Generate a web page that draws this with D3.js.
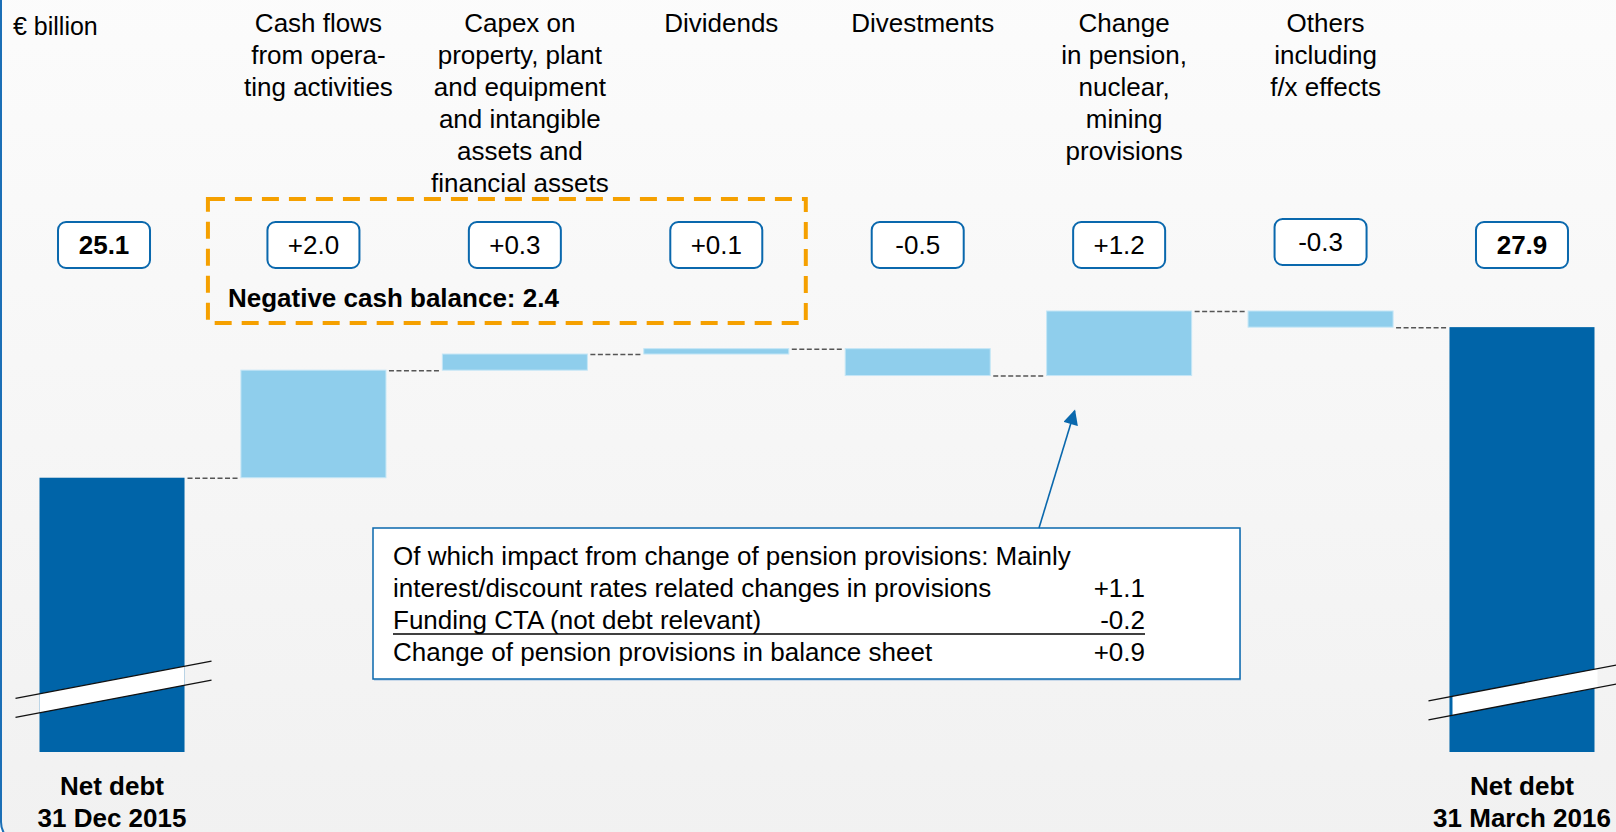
<!DOCTYPE html>
<html>
<head>
<meta charset="utf-8">
<script src="https://cdn.jsdelivr.net/npm/d3@7"></script>
<style>
  html, body { margin: 0; padding: 0; background: #fff; }
  svg { display: block; font-family: "Liberation Sans", Arial, sans-serif; }
</style>
</head>
<body>
<svg id="chart" width="1616" height="832"></svg>
<script>
// data
var categories = ["start", "cashflow", "capex", "dividends", "divestments", "pension", "others", "end"];
var startValue = 25.1;
var deltas = [2.0, 0.3, 0.1, -0.5, 1.2, -0.3];
var endValue = 27.9;
var categoryLabels = [
  [],
  ["Cash flows", "from opera-", "ting activities"],
  ["Capex on", "property, plant", "and equipment", "and intangible", "assets and", "financial assets"],
  ["Dividends"],
  ["Divestments"],
  ["Change", "in pension,", "nuclear,", "mining", "provisions"],
  ["Others", "including", "f/x effects"],
  []
];
var bottomLabels = [["Net debt", "31 Dec 2015"], ["Net debt", "31 March 2016"]];
var cashBalance = 2.4;
var noteLines = [
  "Of which impact from change of pension provisions: Mainly",
  "interest/discount rates related changes in provisions",
  "Funding CTA (not debt relevant)",
  "Change of pension provisions in balance sheet"
];
var noteValues = ["", "+1.1", "-0.2", "+0.9"];

var dark = "#0064a8", light = "#8fceec", blue = "#0a68ad", orange = "#f5a000";
var fontSize = 26;

var svg = d3.select("#chart"),
    width = +svg.attr("width"),
    height = +svg.attr("height");

var x = d3.scaleBand()
    .domain(categories)
    .range([39.5, 1594.5])
    .paddingInner(0.28)
    .paddingOuter(0);

// broken axis: bottom of the plot is not zero
var y = d3.scaleLinear().domain([20, 28.2]).range([752, 311]);
var bw = x.bandwidth();

// background
var defs = svg.append("defs");
var grad = defs.append("linearGradient").attr("id", "bg").attr("x1", 0).attr("y1", 0).attr("x2", 0).attr("y2", 1);
grad.append("stop").attr("offset", "0%").attr("stop-color", "#fcfcfc");
grad.append("stop").attr("offset", "100%").attr("stop-color", "#f1f1f1");

svg.append("rect")
  .attr("x", 1).attr("y", -40)
  .attr("width", 1700).attr("height", 884)
  .attr("rx", 22)
  .attr("fill", "url(#bg)")
  .attr("stroke", "#1b6fb6")
  .attr("stroke-width", 2);

// build waterfall steps
var steps = [];
var level = startValue;
steps.push({ key: categories[0], from: y.domain()[0], to: startValue, total: true, label: d3.format(".1f")(startValue) });
deltas.forEach(function(d, i) {
  steps.push({ key: categories[i + 1], from: level, to: level + d, total: false,
    label: d3.format("+.1f")(d).replace("\u2212", "-") });
  level += d;
});
steps.push({ key: categories[7], from: y.domain()[0], to: endValue, total: true, label: d3.format(".1f")(endValue) });

var g = svg.append("g");

// bars
g.selectAll("rect.bar")
  .data(steps)
  .enter().append("rect")
    .attr("class", "bar")
    .attr("x", function(d) { return x(d.key); })
    .attr("y", function(d) { return y(Math.max(d.from, d.to)); })
    .attr("width", bw)
    .attr("height", function(d) { return Math.abs(y(d.from) - y(d.to)); })
    .attr("fill", function(d) { return d.total ? dark : light; })
    .attr("stroke", function(d) { return d.total ? "none" : "#c4e6f6"; })
    .attr("stroke-width", 1);

// connectors
var links = steps.slice(0, -1).map(function(d, i) {
  return { x1: x(d.key) + bw + 3, x2: x(steps[i + 1].key) - 3, v: d.to };
});
g.selectAll("line.link")
  .data(links)
  .enter().append("line")
    .attr("x1", function(d) { return d.x1; })
    .attr("x2", function(d) { return d.x2; })
    .attr("y1", function(d) { return y(d.v) + 0.5; })
    .attr("y2", function(d) { return y(d.v) + 0.5; })
    .attr("stroke", "#555")
    .attr("stroke-width", 1.5)
    .attr("stroke-dasharray", "5,2.5");

// axis break marks on the total bars
var slope = -0.19, gap = 19;
[{ key: categories[0], cy: 680, ext0: 24, ext1: 27, pad: 0 }, { key: categories[7], cy: 683, ext0: 21, ext1: 40, pad: 3 }].forEach(function(b) {
  var bx0 = x(b.key) + b.pad, bx1 = x(b.key) + bw + b.pad, cx = x(b.key) + bw / 2;
  var yAt = function(px, off) { return b.cy + off + slope * (px - cx); };
  g.append("path")
    .attr("d", "M" + bx0 + "," + yAt(bx0, 0) + "L" + bx1 + "," + yAt(bx1, 0) +
               "L" + bx1 + "," + yAt(bx1, gap) + "L" + bx0 + "," + yAt(bx0, gap) + "Z")
    .attr("fill", "#fff");
  [0, gap].forEach(function(off) {
    var a = x(b.key) - b.ext0, c = x(b.key) + bw + b.ext1;
    g.append("line")
      .attr("x1", a).attr("y1", yAt(a, off))
      .attr("x2", c).attr("y2", yAt(c, off))
      .attr("stroke", "#111").attr("stroke-width", 1.3);
  });
});

// orange dashed group box
var ox0 = x(categories[1]) - 33, ox1 = x(categories[3]) + bw + 17;
svg.append("rect")
  .attr("x", ox0).attr("y", 199)
  .attr("width", ox1 - ox0).attr("height", 124)
  .attr("fill", "none")
  .attr("stroke", orange)
  .attr("stroke-width", 4)
  .attr("stroke-dasharray", "17,10");

svg.append("text")
  .attr("x", ox0 + 20).attr("y", 307)
  .attr("font-size", fontSize).attr("font-weight", "bold")
  .text("Negative cash balance: " + d3.format(".1f")(cashBalance));

// value boxes
var boxes = svg.selectAll("g.vbox")
  .data(steps)
  .enter().append("g")
    .attr("class", "vbox")
    .attr("transform", function(d, i) {
      var cx = x(d.key) + bw / 2 + (i === 0 ? -8 : 0);
      return "translate(" + cx + "," + (i === 6 ? 242 : 245) + ")";
    });

boxes.append("rect")
  .attr("x", -46).attr("y", -23)
  .attr("width", 92).attr("height", 46)
  .attr("rx", 8)
  .attr("fill", "#fff")
  .attr("stroke", blue)
  .attr("stroke-width", 2);

boxes.append("text")
  .attr("text-anchor", "middle")
  .attr("y", 9)
  .attr("font-size", fontSize)
  .attr("font-weight", function(d) { return d.total ? "bold" : "normal"; })
  .text(function(d) { return d.label; });

// category headings
svg.append("text")
  .attr("x", 13).attr("y", 35)
  .attr("font-size", 25)
  .text("\u20ac billion");

var heads = svg.selectAll("text.head")
  .data(categories)
  .enter().append("text")
    .attr("class", "head")
    .attr("text-anchor", "middle")
    .attr("font-size", fontSize)
    .attr("x", function(d) { return x(d) + bw / 2 + 5; })
    .attr("y", 32);

heads.selectAll("tspan")
  .data(function(d, i) { return categoryLabels[i]; })
  .enter().append("tspan")
    .attr("x", function() { return d3.select(this.parentNode).attr("x"); })
    .attr("dy", function(d, i) { return i === 0 ? 0 : 32; })
    .text(function(d) { return d; });

// bottom labels
[categories[0], categories[7]].forEach(function(k, i) {
  var t = svg.append("text")
    .attr("text-anchor", "middle")
    .attr("font-size", fontSize)
    .attr("font-weight", "bold")
    .attr("x", x(k) + bw / 2)
    .attr("y", 795);
  bottomLabels[i].forEach(function(s, j) {
    t.append("tspan").attr("x", x(k) + bw / 2).attr("dy", j === 0 ? 0 : 32).text(s);
  });
});

// callout note
var nx0 = 373, nx1 = 1240, ny0 = 528, ny1 = 679;
svg.append("rect")
  .attr("x", nx0 + 1).attr("y", ny0 + 2)
  .attr("width", nx1 - nx0).attr("height", ny1 - ny0)
  .attr("fill", "#c9d9ea");
svg.append("rect")
  .attr("x", nx0).attr("y", ny0)
  .attr("width", nx1 - nx0).attr("height", ny1 - ny0)
  .attr("fill", "#fff")
  .attr("stroke", blue)
  .attr("stroke-width", 1.5);

noteLines.forEach(function(s, i) {
  svg.append("text")
    .attr("x", 393).attr("y", 565 + i * 32)
    .attr("font-size", fontSize)
    .text(s);
  if (noteValues[i]) {
    svg.append("text")
      .attr("x", 1145).attr("y", 565 + i * 32)
      .attr("text-anchor", "end")
      .attr("font-size", fontSize)
      .text(noteValues[i]);
  }
});
svg.append("line")
  .attr("x1", 393).attr("x2", 1145)
  .attr("y1", 634).attr("y2", 634)
  .attr("stroke", "#000").attr("stroke-width", 1.6);

// arrow from note to pension bar
defs.append("marker")
  .attr("id", "arrow")
  .attr("viewBox", "0 0 10 10")
  .attr("refX", 9).attr("refY", 5)
  .attr("markerWidth", 16).attr("markerHeight", 15)
  .attr("markerUnits", "userSpaceOnUse")
  .attr("orient", "auto")
  .append("path")
    .attr("d", "M0,0L10,5L0,10Z")
    .attr("fill", blue);

var tipX = x(categories[5]) + 28, tipY = 411;
svg.append("line")
  .attr("x1", 1039).attr("y1", ny0)
  .attr("x2", tipX).attr("y2", tipY)
  .attr("stroke", blue)
  .attr("stroke-width", 1.6)
  .attr("marker-end", "url(#arrow)");
</script>
</body>
</html>
